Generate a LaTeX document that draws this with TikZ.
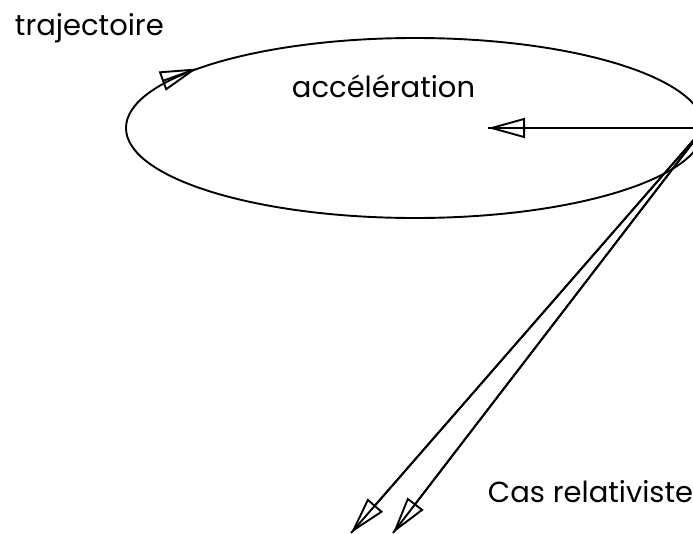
\documentclass[tikz,border=0pt]{standalone}
\usepackage{fontspec}
\setmainfont{Poppins}
\usetikzlibrary{arrows.meta,shapes.geometric}
\begin{document}
\begin{tikzpicture}[x=1pt,y=-1pt,line width=1.9pt,
  vec/.style={-{Triangle[open,length=37pt,width=20pt]}},
  lbl/.style={font=\fontsize{29}{34}\selectfont,inner sep=0pt,anchor=base west}]
\useasboundingbox (0,0) rectangle (693,533);
\node[draw,ellipse,minimum width=578pt,minimum height=180pt,inner sep=0pt,outer sep=0pt] (traj) at (415,128) {};
\node[lbl] (t1) at (14,35) {trajectoire};
\node[lbl] (t2) at (291,97) {accélération};
\node[lbl] (t3) at (487,502) {Cas relativiste};
\coordinate (P) at (traj.east);
\coordinate (acc) at (488,128);
\coordinate (v1) at (351,533);
\coordinate (v2) at (393,533);
\coordinate (tA) at (197,68.5);
\coordinate (tB) at (192.3,70.2);
\draw (P) -- (acc);
\draw[vec] (P) -- (acc);
\draw (P) -- (v1);
\draw[vec] (P) -- (v1);
\draw (P) -- (v2);
\draw[vec] (P) -- (v2);
\draw[vec] (tB) -- (tA);
\end{tikzpicture}
\end{document}
